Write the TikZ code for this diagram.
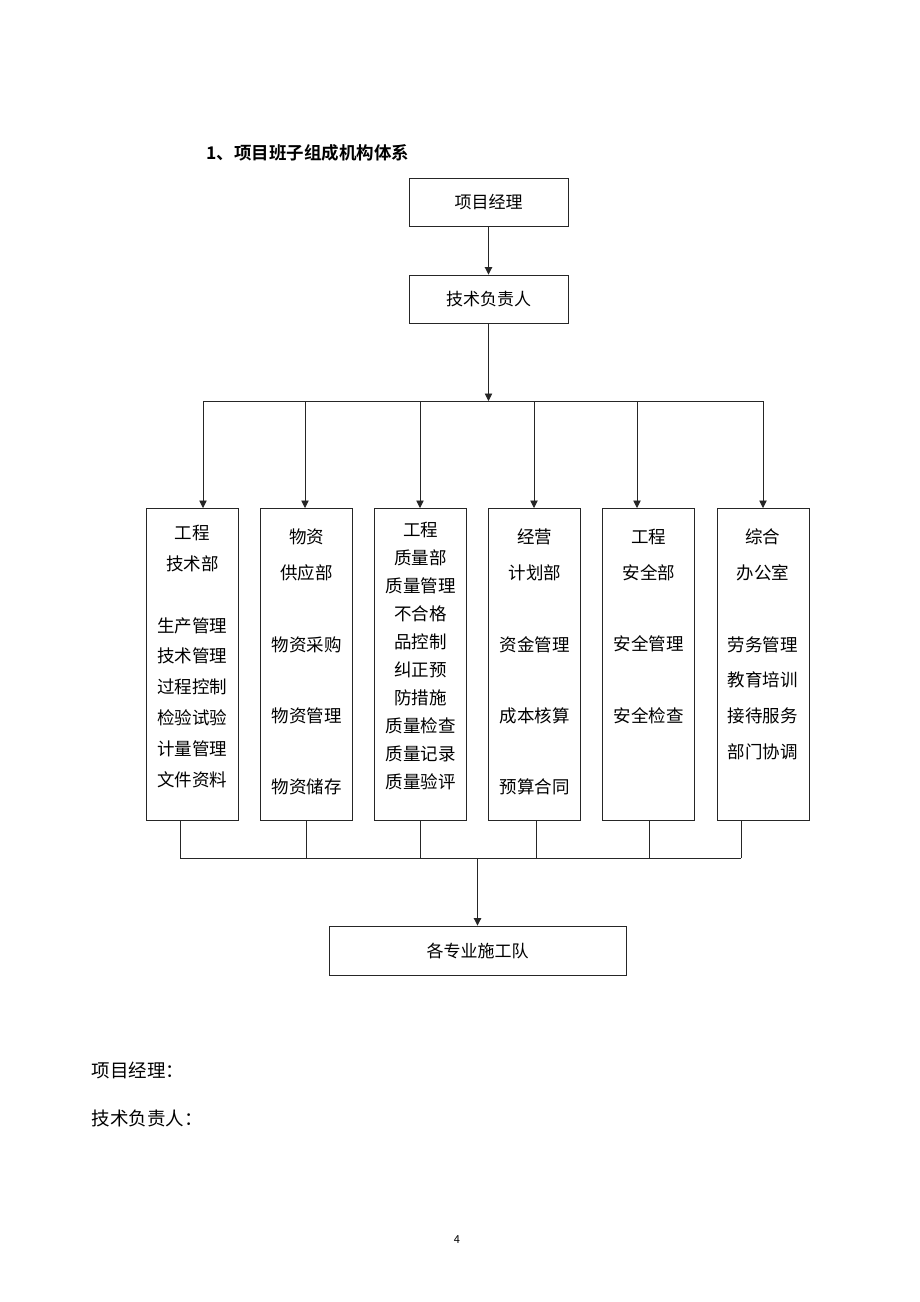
\documentclass[tikz,border=0pt]{standalone}
\usepackage{fontspec}
\setmainfont{Noto Sans CJK SC}[BoldFont={Noto Sans CJK SC Bold}]
\usetikzlibrary{arrows.meta,positioning}

\begin{document}
\begin{tikzpicture}[x=1pt, y=-1pt, node distance=21.2pt]
\tikzstyle{box} = [rectangle, draw=black!85, line width=0.9pt, minimum width=159pt, minimum height=48pt, font=\fontsize{17}{20}\selectfont]
\tikzstyle{dept} = [rectangle, draw=black!85, line width=0.9pt, minimum width=92pt, minimum height=312pt]
\tikzstyle{depttext} = [align=center, inner sep=0pt, anchor=north]
\tikzstyle{line} = [-{Triangle[length=7.5pt,width=7.5pt]}, draw=black!85, line width=0.9pt]
\tikzstyle{wire} = [draw=black!85, line width=0.9pt]
\useasboundingbox (0,0) rectangle (920,1302);

    \node [anchor=west, font=\fontsize{17.5}{20}\selectfont\bfseries] (title) at (203,153) {1、项目班子组成机构体系};
    \node [box] (pm) at (488.5,202) {项目经理};
    \node [box] (tech) at (488.5,299) {技术负责人};

    % departments
    \node [dept, anchor=north west] (b1) at (146,508) {};
    \node [dept, right=of b1] (b2) {};
    \node [dept, right=of b2] (b3) {};
    \node [dept, right=of b3] (b4) {};
    \node [dept, right=of b4] (b5) {};
    \node [dept, right=of b5] (b6) {};
    \node [depttext, font=\fontsize{17.5}{30.8}\selectfont, below=17pt of b1.north] (b1t)
      {工程\\技术部\\~\\生产管理\\技术管理\\过程控制\\检验试验\\计量管理\\文件资料};
    \node [depttext, font=\fontsize{17.5}{35.7}\selectfont, below=21pt of b2.north] (b2t)
      {物资\\供应部\\~\\物资采购\\~\\物资管理\\~\\物资储存};
    \node [depttext, font=\fontsize{17.5}{28}\selectfont, below=14pt of b3.north] (b3t)
      {工程\\质量部\\质量管理\\不合格\\品控制\\纠正预\\防措施\\质量检查\\质量记录\\质量验评};
    \node [depttext, font=\fontsize{17.5}{35.7}\selectfont, below=21pt of b4.north] (b4t)
      {经营\\计划部\\~\\资金管理\\~\\成本核算\\~\\预算合同};
    \node [depttext, font=\fontsize{17.5}{35.7}\selectfont, below=21pt of b5.north] (b5t)
      {工程\\安全部\\~\\安全管理\\~\\安全检查};
    \node [depttext, font=\fontsize{17.5}{35.7}\selectfont, below=21pt of b6.north] (b6t)
      {综合\\办公室\\~\\劳务管理\\教育培训\\接待服务\\部门协调};

    \node [box, minimum width=297pt, minimum height=49pt] (team) at (477.5,950.5) {各专业施工队};

    % upper bus
    \coordinate (bus) at (488.5,401);
    \coordinate (t1) at (203,401);
    \coordinate (t2) at (305,401);
    \coordinate (t3) at (420,401);
    \coordinate (t4) at (534,401);
    \coordinate (t5) at (637,401);
    \coordinate (t6) at (763,401);
    % lower bus
    \coordinate (u1) at (180,858);
    \coordinate (u2) at (306,858);
    \coordinate (u3) at (420,858);
    \coordinate (u4) at (536,858);
    \coordinate (u5) at (649,858);
    \coordinate (u6) at (741,858);
    \coordinate (mid) at (477.5,858);

    \path [line] (pm) -- (tech);
    \path [line] (tech) -- (bus);
    \path [wire] (t1) -- (t6);
    \foreach \i in {1,...,6}
      \path [line] (t\i) -- (t\i |- b\i.north);
    \foreach \i in {1,...,6}
      \path [wire] (u\i |- b\i.south) -- (u\i);
    \path [wire] (u1) -- (u6);
    \path [line] (mid) -- (team);

    \node [anchor=west, font=\fontsize{18.5}{22}\selectfont] (sig1) at (88,1070) {项目经理：};
    \node [anchor=west, font=\fontsize{18.5}{22}\selectfont] (sig2) at (88,1118) {技术负责人：};
    \node [font=\fontsize{11}{13}\selectfont] (page) at (457,1240) {4};
\end{tikzpicture}
\end{document}
